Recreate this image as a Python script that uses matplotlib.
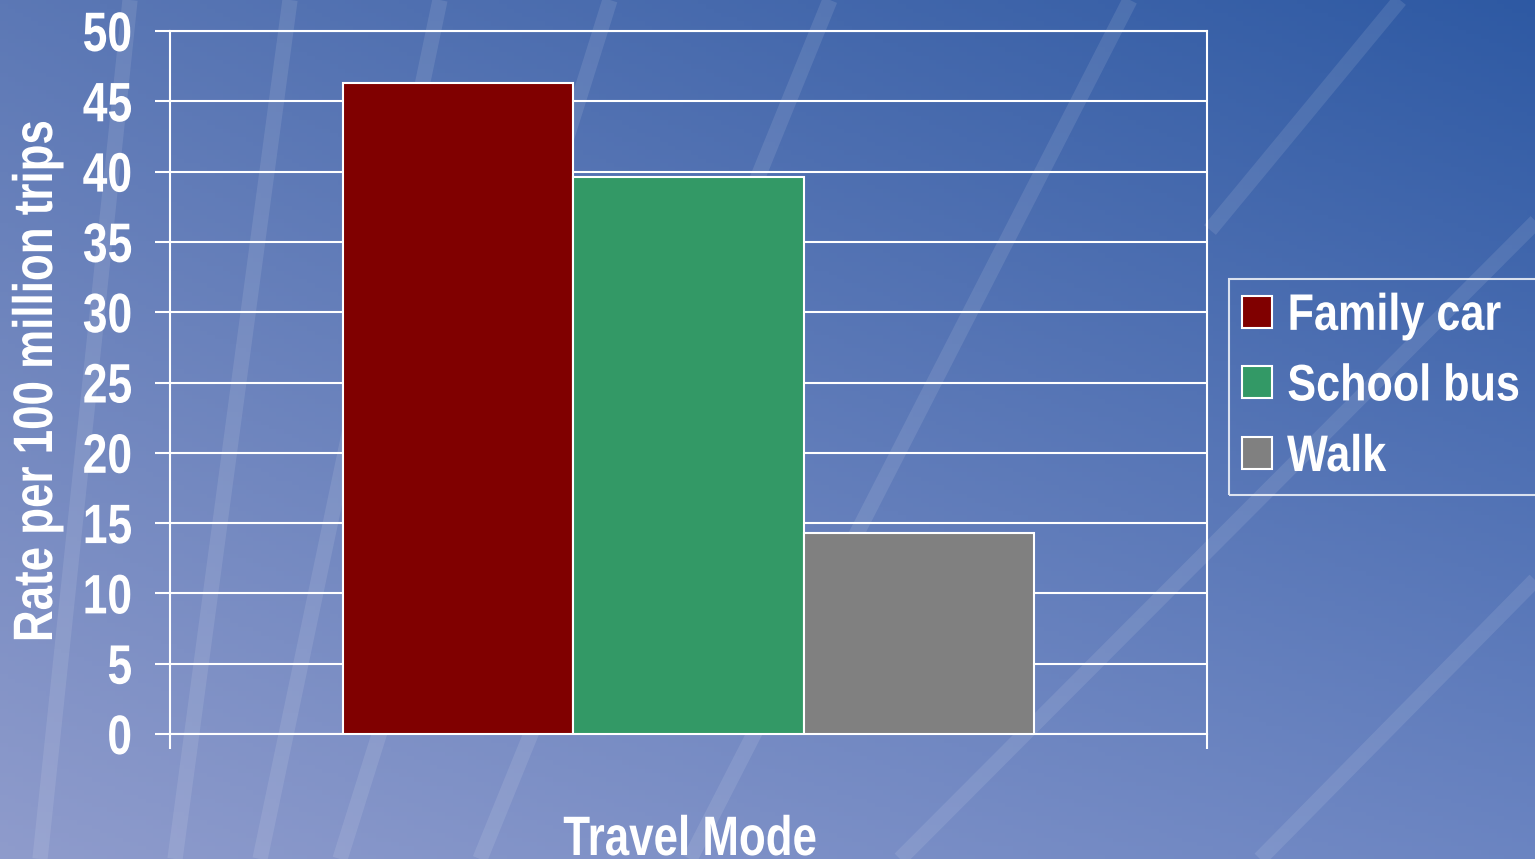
import numpy as np
import matplotlib.pyplot as plt
from matplotlib import font_manager, patheffects
from matplotlib.transforms import Affine2D

# data
modes = ['Family car', 'School bus', 'Walk']
rates = [46.3, 39.6, 14.3]
colors = ['#800000', '#339966', '#808080']
yticks = list(range(0, 55, 5))

names = {f.name for f in font_manager.fontManager.ttflist}
fam = ['Liberation Sans Narrow'] if 'Liberation Sans Narrow' in names else ['Liberation Sans']
narrow_ok = fam[0] == 'Liberation Sans Narrow'
plt.rcParams['font.family'] = fam + ['DejaVu Sans']
plt.rcParams['font.weight'] = 'bold'


class Narrow(patheffects.AbstractPathEffect):
    # squeeze glyphs along the text direction (no condensed font installed)
    def __init__(self, sx=0.8, anchor='center'):
        super().__init__()
        self.sx = 1.0 if narrow_ok else sx
        self.anchor = anchor

    def draw_path(self, renderer, gc, tpath, affine, rgbFace=None):
        ext = tpath.get_extents()
        cx = {'left': ext.x0, 'right': ext.x1}.get(self.anchor, (ext.x0 + ext.x1) / 2)
        t = Affine2D().translate(-cx, 0).scale(self.sx, 1).translate(cx, 0) + affine
        renderer.draw_path(gc, tpath, t, rgbFace)


W, H = 1535, 859
fig = plt.figure(figsize=(W / 100, H / 100), dpi=100)

# background gradient + light streaks
bg = fig.add_axes([0, 0, 1, 1])
xx, yy = np.meshgrid(np.linspace(0, 1, 200), np.linspace(0, 1, 200))
tl = np.array([0.36, 0.47, 0.71]); tr = np.array([0.18, 0.35, 0.64])
bl = np.array([0.56, 0.61, 0.80]); br = np.array([0.42, 0.52, 0.76])
img = (tl[None, None] * ((1 - xx) * (1 - yy))[..., None] + tr[None, None] * (xx * (1 - yy))[..., None]
       + bl[None, None] * ((1 - xx) * yy)[..., None] + br[None, None] * (xx * yy)[..., None])
bg.imshow(img, extent=[0, W, H, 0], aspect='auto')
streaks = [(130, 0, 40, 859), (290, 0, 175, 859), (440, 0, 260, 859), (610, 0, 340, 859),
           (830, 0, 480, 859), (1130, 0, 690, 859), (1757, 0, 900, 859), (1535, 580, 1260, 859),
           (1400, 0, 1210, 230)]
for x0, y0, x1, y1 in streaks:
    bg.plot([x0, x1], [y0, y1], color='white', alpha=0.1, lw=11, solid_capstyle='butt')
bg.set_xlim(0, W); bg.set_ylim(H, 0)
bg.axis('off')

ax = fig.add_axes([170 / W, 1 - 734 / H, 1037 / W, 703 / H])
ax.patch.set_alpha(0)
pos = [-1, 0, 1]
for p, r, c, m in zip(pos, rates, colors, modes):
    ax.bar(p, r, width=1, color=c, edgecolor='white', linewidth=1.5, label=m, zorder=3)
ax.set_xlim(-2.254, 2.254)
ax.set_ylim(0, 50)
ax.set_yticks(yticks)
ax.set_xticks([-2.254, 2.254])
ax.set_xticklabels([])
ax.grid(axis='y', color='white', lw=1.5, zorder=1)
for s in ax.spines.values():
    s.set_color('white'); s.set_linewidth(1.5)
ax.tick_params(axis='y', colors='white', length=11, width=1.5, pad=16, labelsize=40)
ax.tick_params(axis='x', colors='white', length=11, width=1.5)
for t in ax.get_yticklabels():
    t.set_fontweight('bold')
    t.set_path_effects([Narrow(0.8, 'right')])

fig.text(38 / W, 1 - 382 / H, 'Rate per 100 million trips', color='white', fontsize=40,
         fontweight='bold', rotation=90, ha='center', va='center',
         path_effects=[Narrow(0.79, 'center')])
fig.text(690 / W, 1 - 855 / H, 'Travel Mode', color='white', fontsize=40, fontweight='bold',
         ha='center', va='baseline', path_effects=[Narrow(0.79, 'center')])

leg = ax.legend(loc='upper left', bbox_to_anchor=(1229 / W, 1 - 279 / H), bbox_transform=fig.transFigure,
                prop={'size': 37, 'weight': 'bold'}, frameon=True, fancybox=False,
                handlelength=0.58, handleheight=0.58, handletextpad=0.3, labelspacing=0.42,
                borderpad=0.25, borderaxespad=0)
leg.get_frame().set_facecolor('none')
leg.get_frame().set_edgecolor('white')
leg.get_frame().set_linewidth(1.5)
for t in leg.get_texts():
    t.set_color('white')
    t.set_path_effects([Narrow(0.84, 'left')])

fig.savefig('out.png', dpi=100)
